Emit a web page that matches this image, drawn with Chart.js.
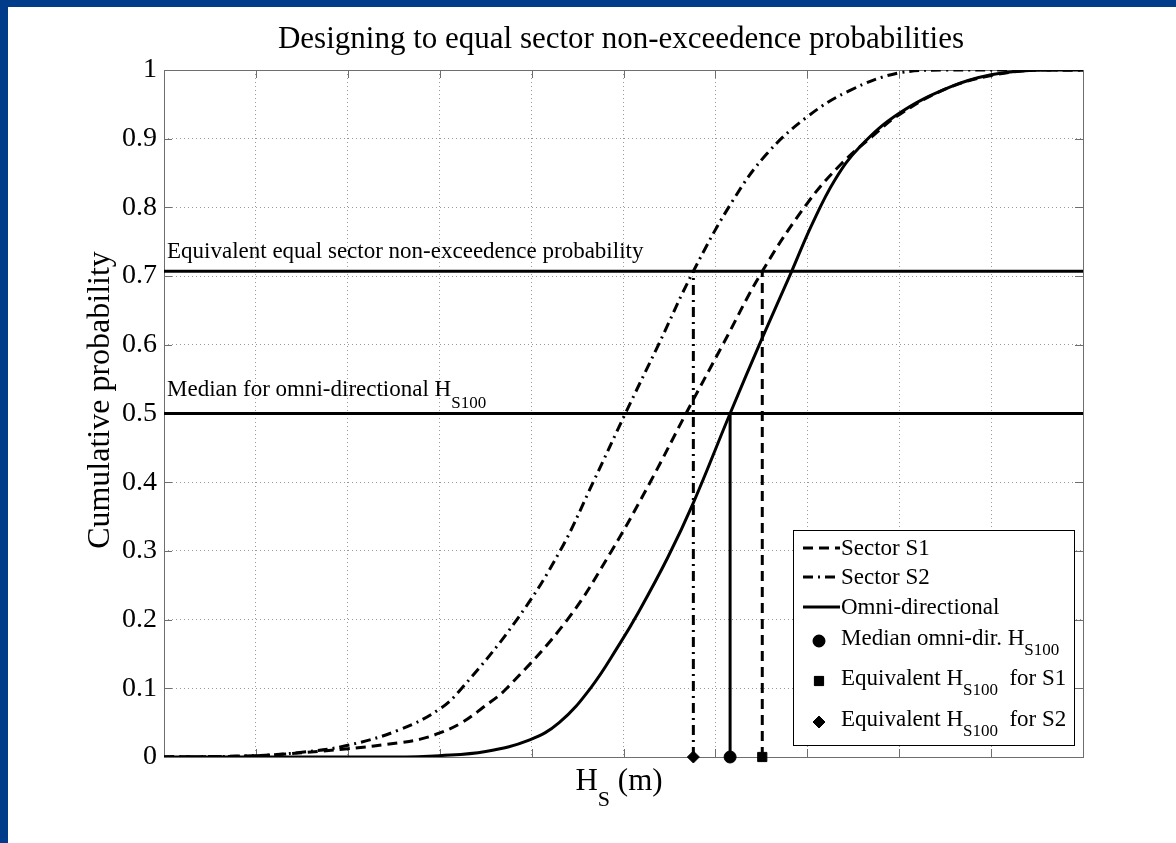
<!DOCTYPE html>
<html>
<head>
<meta charset="utf-8">
<script src="https://cdn.jsdelivr.net/npm/chart.js@4.4.1/dist/chart.umd.min.js"></script>
<style>
  body { margin: 0; background: #fff; }
  .bar { position: absolute; background: #003c8a; z-index: 2; }
  #wrap { position: absolute; left: 0; top: 0; width: 1176px; height: 843px; }
</style>
</head>
<body>
<div class="bar" style="left:0;top:0;width:1176px;height:7px"></div>
<div class="bar" style="left:0;top:0;width:8px;height:843px"></div>
<div id="wrap"><canvas id="chart" width="1176" height="843"></canvas></div>
<script>
// Cumulative probability curves, x in grid units (no x tick labels on the original)
const omniX = [0, 2.5, 3.0, 3.5, 3.98, 4.3, 4.64, 4.96, 5.16, 5.48, 5.76, 6.16, 6.51, 6.83, 7.05, 7.3, 7.57, 8.0, 8.55, 9.0, 9.5, 10];
const omniP = [0, 0, 0.002, 0.008, 0.025, 0.05, 0.10, 0.165, 0.21, 0.29, 0.37, 0.50, 0.61, 0.707, 0.775, 0.84, 0.888, 0.937, 0.975, 0.993, 1.0, 1.0];

const s1X = [0, 1.0, 2.0, 2.57, 2.79, 3.0, 3.24, 3.47, 3.73, 4.39, 4.87, 5.29, 5.68, 6.08, 6.51, 7.0, 7.36, 7.72, 8.0, 8.5, 9.0, 9.5, 10];
const s1P = [0, 0.002, 0.012, 0.021, 0.026, 0.035, 0.05, 0.072, 0.10, 0.20, 0.30, 0.40, 0.50, 0.60, 0.707, 0.806, 0.862, 0.905, 0.935, 0.972, 0.992, 1.0, 1.0];

const s2X = [0, 1.0, 1.5, 2.0, 2.57, 3.0, 3.24, 3.84, 4.31, 4.67, 5.02, 5.38, 5.76, 6.19, 6.56, 7.0, 7.46, 8.0, 8.5, 10];
const s2P = [0, 0.002, 0.007, 0.017, 0.04, 0.07, 0.10, 0.20, 0.30, 0.40, 0.50, 0.60, 0.707, 0.81, 0.878, 0.932, 0.970, 0.996, 1.0, 1.0];

// reference levels and design values
const eqLevel = 0.707;
const medianLevel = 0.5;
const hsS2 = 5.76;
const hsMedian = 6.16;
const hsS1 = 6.51;

const xRange = [0, 10];
const yTickLabels = ['0', '0.1', '0.2', '0.3', '0.4', '0.5', '0.6', '0.7', '0.8', '0.9', '1'];

const SERIF = "'Liberation Serif', 'DejaVu Serif', serif";
const DASH = [10, 6];
const DASHDOT = [10, 5, 2, 5];

const pts = (xs, ys) => xs.map((x, i) => ({ x: x, y: ys[i] }));

function curve(data, dash) {
    return {
        data: data, borderColor: '#000', borderWidth: 3, borderDash: dash,
        pointRadius: 0, tension: 0.4, fill: false
    };
}
function straight(data, dash, width) {
    return {
        data: data, borderColor: '#000', borderWidth: width || 3, borderDash: dash,
        pointRadius: 0, tension: 0, fill: false
    };
}
function marker(x, style, r) {
    return {
        data: [{ x: x, y: 0 }], showLine: false, clip: false,
        pointStyle: style, pointRadius: r, backgroundColor: '#000', borderColor: '#000', borderWidth: 1
    };
}

// draw a string made of parts with optional subscripts
function partsWidth(ctx, parts) {
    let w = 0;
    parts.forEach(p => { ctx.font = p.size + 'px ' + SERIF; w += ctx.measureText(p.t).width; });
    return w;
}
function drawParts(ctx, parts, x, y, align) {
    let cx = x;
    if (align === 'center') cx = x - partsWidth(ctx, parts) / 2;
    ctx.textAlign = 'left';
    ctx.textBaseline = 'alphabetic';
    parts.forEach(p => {
        ctx.font = p.size + 'px ' + SERIF;
        ctx.fillText(p.t, cx, y + (p.dy || 0));
        cx += ctx.measureText(p.t).width;
    });
}

const legendItems = [
    { kind: 'line', dash: DASH, parts: [{ t: 'Sector S1', size: 23 }] },
    { kind: 'line', dash: DASHDOT, parts: [{ t: 'Sector S2', size: 23 }] },
    { kind: 'line', dash: [], parts: [{ t: 'Omni-directional', size: 23 }] },
    { kind: 'circle', parts: [{ t: 'Median omni-dir. H', size: 23 }, { t: 'S100', size: 17, dy: 10 }] },
    { kind: 'square', parts: [{ t: 'Equivalent H', size: 23 }, { t: 'S100', size: 17, dy: 10 }, { t: '  for S1', size: 23 }] },
    { kind: 'diamond', parts: [{ t: 'Equivalent H', size: 23 }, { t: 'S100', size: 17, dy: 10 }, { t: '  for S2', size: 23 }] }
];
const legendRows = [548, 577, 607, 638, 678, 719];

const overlay = {
    id: 'overlay',
    beforeDatasetsDraw(chart) {
        const { ctx, chartArea: a, scales } = chart;
        ctx.save();
        ctx.strokeStyle = '#6e6e6e';
        ctx.lineWidth = 1;
        ctx.beginPath();
        scales.y.ticks.forEach(t => {
            const y = Math.round(scales.y.getPixelForValue(t.value)) + 0.5;
            ctx.moveTo(a.left, y); ctx.lineTo(a.left + 8, y);
            ctx.moveTo(a.right, y); ctx.lineTo(a.right - 8, y);
        });
        scales.x.ticks.forEach(t => {
            const x = Math.round(scales.x.getPixelForValue(t.value)) + 0.5;
            ctx.moveTo(x, a.bottom); ctx.lineTo(x, a.bottom - 8);
            ctx.moveTo(x, a.top); ctx.lineTo(x, a.top + 8);
        });
        ctx.stroke();
        ctx.strokeRect(Math.round(a.left) + 0.5, Math.round(a.top) + 0.5, Math.round(a.right - a.left), Math.round(a.bottom - a.top));
        ctx.restore();
    },
    afterDraw(chart) {
        const { ctx, chartArea: a, scales } = chart;
        ctx.save();
        ctx.fillStyle = '#000';

        // title
        ctx.font = '31px ' + SERIF;
        ctx.textAlign = 'center';
        ctx.textBaseline = 'alphabetic';
        ctx.fillText('Designing to equal sector non-exceedence probabilities', 621, 48);

        // axis titles
        drawParts(ctx, [{ t: 'H', size: 31 }, { t: 'S', size: 22, dy: 16 }, { t: ' (m)', size: 31 }], 619, 790, 'center');
        ctx.save();
        ctx.translate(109, 400);
        ctx.rotate(-Math.PI / 2);
        ctx.font = '32px ' + SERIF;
        ctx.textAlign = 'center';
        ctx.fillText('Cumulative probability', 0, 0);
        ctx.restore();

        // level annotations
        const yEq = scales.y.getPixelForValue(eqLevel);
        const yMed = scales.y.getPixelForValue(medianLevel);
        drawParts(ctx, [{ t: 'Equivalent equal sector non-exceedence probability', size: 23 }], a.left + 3, yEq - 13);
        drawParts(ctx, [{ t: 'Median for omni-directional H', size: 23 }, { t: 'S100', size: 17, dy: 12 }], a.left + 3, yMed - 18);

        // legend
        const lx = 793, ly = 530, lw = 281, lh = 215;
        ctx.fillStyle = '#fff';
        ctx.fillRect(lx, ly, lw, lh);
        ctx.strokeStyle = '#000';
        ctx.lineWidth = 1;
        ctx.strokeRect(lx + 0.5, ly + 0.5, lw, lh);
        ctx.fillStyle = '#000';
        legendItems.forEach((it, i) => {
            const cy = legendRows[i];
            if (it.kind === 'line') {
                ctx.save();
                ctx.lineWidth = 3;
                ctx.setLineDash(it.dash);
                ctx.beginPath();
                ctx.moveTo(803, cy); ctx.lineTo(840, cy);
                ctx.stroke();
                ctx.restore();
            } else {
                const style = { circle: 'circle', square: 'rect', diamond: 'rectRot' }[it.kind];
                Chart.helpers.drawPoint(ctx, { pointStyle: style, radius: it.kind === 'square' ? 6.5 : 6, borderWidth: 1 }, 819, cy + 3);
                ctx.fill();
            }
            drawParts(ctx, it.parts, 841, cy + 7);
        });
        ctx.restore();
    }
};

new Chart(document.getElementById('chart'), {
    type: 'line',
    data: {
        datasets: [
            straight(pts(xRange, [eqLevel, eqLevel]), []),
            straight(pts(xRange, [medianLevel, medianLevel]), []),
            straight(pts([hsS2, hsS2], [0, eqLevel]), DASHDOT),
            straight(pts([hsS1, hsS1], [0, eqLevel]), DASH),
            straight(pts([hsMedian, hsMedian], [0, medianLevel]), []),
            curve(pts(s1X, s1P), DASH),
            curve(pts(s2X, s2P), DASHDOT),
            curve(pts(omniX, omniP), []),
            marker(hsS2, 'rectRot', 6),
            marker(hsMedian, 'circle', 6),
            marker(hsS1, 'rect', 6.5)
        ]
    },
    options: {
        responsive: false,
        animation: false,
        devicePixelRatio: 1,
        layout: { padding: { left: 0, top: 70, right: 93, bottom: 0 } },
        plugins: { legend: { display: false }, title: { display: false }, tooltip: { enabled: false } },
        scales: {
            x: {
                type: 'linear', min: xRange[0], max: xRange[1],
                ticks: { display: false, stepSize: 1 },
                grid: { color: '#9a9a9a', drawTicks: false, lineWidth: 1 },
                border: { display: false, dash: [1, 3] },
                afterFit(s) { s.height = 86; }
            },
            y: {
                type: 'linear', min: 0, max: 1,
                ticks: {
                    stepSize: 0.1, padding: 7, color: '#000',
                    font: { family: SERIF, size: 28 },
                    callback: (v, i) => yTickLabels[i]
                },
                grid: { color: '#9a9a9a', drawTicks: false, lineWidth: 1 },
                border: { display: false, dash: [1, 3] },
                afterFit(s) { s.width = 164; }
            }
        }
    },
    plugins: [overlay]
});
</script>
</body>
</html>
